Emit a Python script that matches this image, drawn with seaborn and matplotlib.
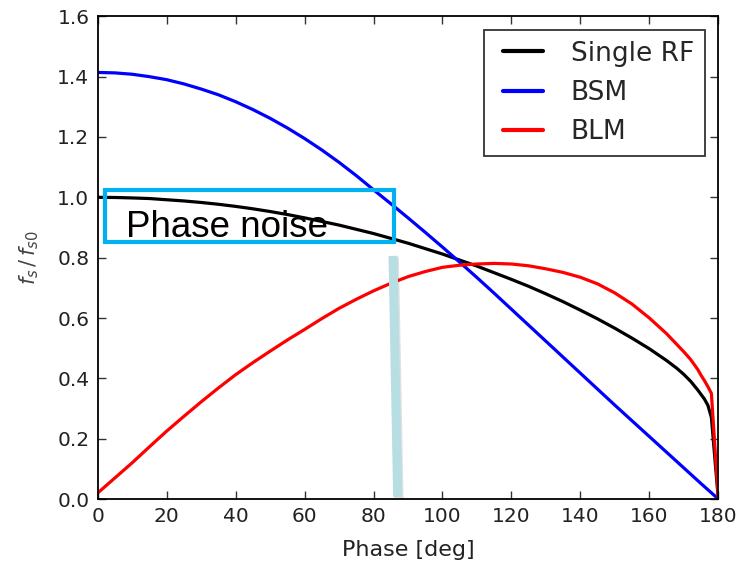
import numpy as np
import pandas as pd
import matplotlib
matplotlib.use("Agg")
import matplotlib.pyplot as plt
import matplotlib.patheffects as pe
from matplotlib.patches import Rectangle
import seaborn as sns

# Synchrotron frequency (normalised) versus oscillation amplitude
phase_single = [0, 5, 10, 15, 20, 25, 30, 35, 40, 45, 50, 55, 60, 65, 70, 75,
                80, 85, 90, 95, 100, 105, 110, 115, 120, 125, 130, 135, 140,
                145, 150, 155, 160, 165, 168, 170, 172, 174, 176, 177, 178, 180]
fs_single = [1.000, 0.9995, 0.998, 0.996, 0.992, 0.988, 0.983, 0.977, 0.970,
             0.962, 0.953, 0.943, 0.932, 0.920, 0.908, 0.894, 0.880, 0.864,
             0.848, 0.830, 0.812, 0.792, 0.772, 0.750, 0.728, 0.705, 0.680,
             0.654, 0.626, 0.597, 0.566, 0.533, 0.498, 0.459, 0.433, 0.413,
             0.390, 0.362, 0.331, 0.310, 0.270, 0.0]

phase_bsm = [0, 5, 10, 15, 20, 25, 30, 35, 40, 45, 50, 55, 60, 65, 70, 75, 80,
             85, 90, 95, 100, 105, 110, 115, 120, 125, 130, 135, 140, 145,
             150, 155, 160, 165, 170, 175, 180]
fs_bsm = [1.414, 1.4125, 1.408, 1.400, 1.390, 1.376, 1.359, 1.340, 1.317,
          1.291, 1.262, 1.230, 1.195, 1.157, 1.116, 1.072, 1.025, 0.979,
          0.932, 0.884, 0.835, 0.785, 0.734, 0.682, 0.629, 0.576, 0.523,
          0.470, 0.417, 0.364, 0.311, 0.259, 0.207, 0.155, 0.103, 0.051, 0.0]

phase_blm = [0, 5, 10, 15, 20, 25, 30, 35, 40, 45, 50, 55, 60, 65, 70, 75, 80,
             85, 90, 95, 100, 105, 110, 115, 120, 125, 130, 135, 140, 145,
             150, 155, 160, 165, 168, 170, 172, 174, 175, 176, 177, 178, 180]
fs_blm = [0.020, 0.070, 0.120, 0.173, 0.225, 0.274, 0.322, 0.368, 0.412,
          0.452, 0.490, 0.527, 0.562, 0.598, 0.632, 0.662, 0.690, 0.715,
          0.737, 0.754, 0.768, 0.775, 0.779, 0.781, 0.779, 0.773, 0.763,
          0.751, 0.735, 0.713, 0.683, 0.646, 0.600, 0.548, 0.512, 0.488,
          0.462, 0.430, 0.410, 0.392, 0.372, 0.350, 0.0]

series_names = ["Single RF", "BSM", "BLM"]
series_colors = ["#000000", "#0000FF", "#FF0000"]

x_ticks = [0, 20, 40, 60, 80, 100, 120, 140, 160, 180]
y_ticks = [0.0, 0.2, 0.4, 0.6, 0.8, 1.0, 1.2, 1.4, 1.6]

df = pd.concat([
    pd.DataFrame({"phase": phase_single, "fs": fs_single, "mode": series_names[0]}),
    pd.DataFrame({"phase": phase_bsm, "fs": fs_bsm, "mode": series_names[1]}),
    pd.DataFrame({"phase": phase_blm, "fs": fs_blm, "mode": series_names[2]}),
], ignore_index=True)

sns.set_style("white")
plt.rcParams["font.family"] = ["DejaVu Sans"]
plt.rcParams["mathtext.fontset"] = "dejavusans"

fig = plt.figure(figsize=(7.55, 5.61), dpi=100)
ax = fig.add_axes([0.1294, 0.1105, 0.8220, 0.8604])

sns.lineplot(data=df, x="phase", y="fs", hue="mode", hue_order=series_names,
             palette=series_colors, sort=False, estimator=None,
             linewidth=2.3, ax=ax)

ax.set_xlim(0, 180)
ax.set_ylim(0, 1.6)
ax.set_xticks(x_ticks)
ax.set_yticks(y_ticks)
ax.set_yticklabels([f"{v:.1f}" for v in y_ticks])

for sp in ax.spines.values():
    sp.set_visible(True)
    sp.set_color("black")
    sp.set_linewidth(1.3)

ax.tick_params(axis="both", which="major", direction="in", length=6,
               width=1.0, color="#333333", labelsize=14.5, pad=6,
               top=True, right=True, bottom=True, left=True,
               labelcolor="#222222")

ax.set_xlabel("Phase [deg]", fontsize=16, color="#222222", labelpad=9.5)
ax.set_ylabel(r"$f_s\,/\,f_{s0}$", fontsize=15, color="#444444", labelpad=12)

handles, labels = ax.get_legend_handles_labels()
leg = ax.legend(handles, labels, loc="upper right", fontsize=19,
                numpoints=2, borderpad=0.42, handlelength=2.1,
                handletextpad=0.75, labelspacing=0.5, borderaxespad=0.5,
                frameon=True, fancybox=False)
leg.get_frame().set_edgecolor("black")
leg.get_frame().set_linewidth(1.3)
for line in leg.get_lines():
    line.set_linewidth(3)

# Highlighted region and marker
ax.add_patch(Rectangle((2.03, 0.852), 85.85 - 2.03, 1.0235 - 0.852,
                       fill=False, edgecolor="#00B0F0", linewidth=3.0,
                       clip_on=False, zorder=5))
ax.text(8.2, 0.870, "Phase noise", fontsize=26.5,
        family=["Liberation Sans", "DejaVu Sans"], color="black",
        va="baseline", ha="left", zorder=6)
ax.plot([85.65, 87.0], [0.806, 0.007], color="#B7DEE3", linewidth=6.5,
        solid_capstyle="butt", zorder=4, clip_on=False,
        path_effects=[pe.SimpleLineShadow(offset=(1, -1), alpha=0.12),
                      pe.Normal()])

fig.savefig("out.png", dpi=100)
